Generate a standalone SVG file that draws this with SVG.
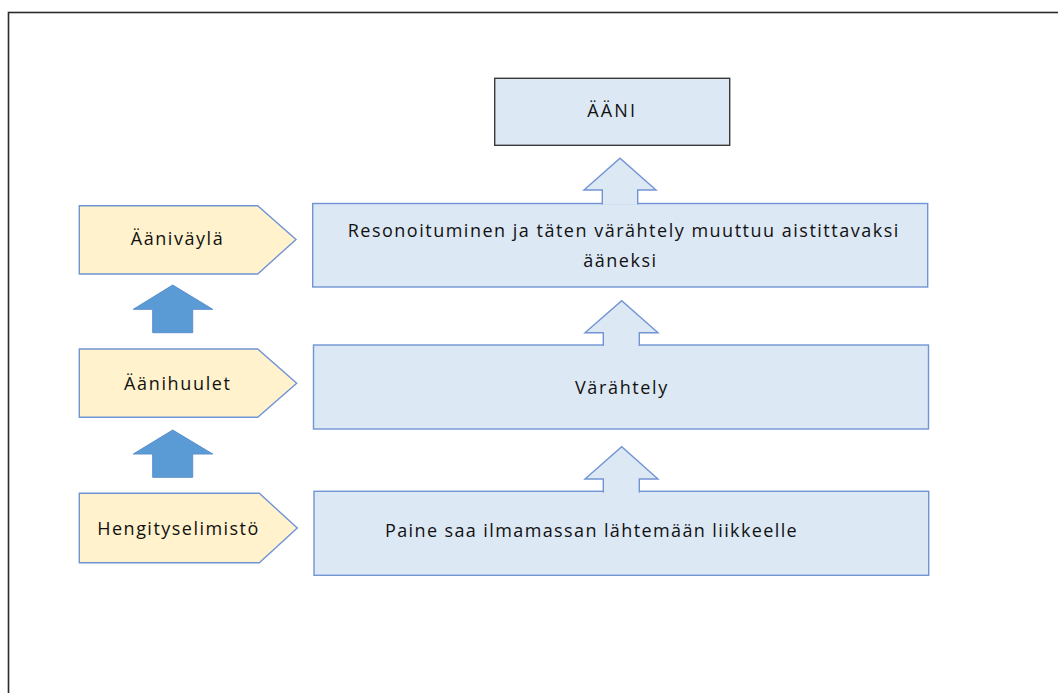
<svg xmlns="http://www.w3.org/2000/svg" width="1058" height="693" viewBox="0 0 1058 693">
<style>
.bg{fill:#ffffff}
.frame{fill:none;stroke:#2b2b2b;stroke-width:1.6}
.box{fill:#dde8f5;stroke:#7194d4;stroke-width:1.4}
.top{fill:#dde8f5;stroke:#3a3a3a;stroke-width:1.4}
.tag{fill:#fff2cc;stroke:#7194d4;stroke-width:1.4}
.harrow{fill:#dde8f5;stroke:#7194d4;stroke-width:1.4;stroke-linejoin:miter}
.sarrow{fill:#5b9bd5;stroke:#5a8fcc;stroke-width:1}
text{font-family:"Open Sans","Noto Sans","Liberation Sans",sans-serif;font-size:18px;fill:#111111}
</style>
<rect class="bg" x="0" y="0" width="1058" height="693"/>
<rect class="frame" x="8.5" y="12.5" width="1100" height="720"/>

<g id="node-aani">
<rect class="top" x="494.7" y="78.3" width="235" height="67"/>
<text x="587.3" y="117" textLength="47.7" lengthAdjust="spacing">ÄÄNI</text>
</g>

<g id="node-resonoituminen">
<rect class="box" x="312.7" y="203.5" width="615" height="83.5"/>
<text x="347.7" y="237" textLength="550.6" lengthAdjust="spacing">Resonoituminen ja täten värähtely muuttuu aistittavaksi</text>
<text x="583.3" y="266.5" textLength="72.7" lengthAdjust="spacing">ääneksi</text>
</g>

<g id="node-varahtely">
<rect class="box" x="313.5" y="345" width="615" height="84"/>
<text x="575" y="394" textLength="92.3" lengthAdjust="spacing">Värähtely</text>
</g>

<g id="node-paine">
<rect class="box" x="314" y="491.3" width="614.7" height="84"/>
<text x="385" y="537" textLength="411.7" lengthAdjust="spacing">Paine saa ilmamassan lähtemään liikkeelle</text>
</g>

<g id="node-aanivayla">
<polygon class="tag" points="79.3,205.7 257.7,205.7 296,239.5 257.7,274 79.3,274"/>
<text x="130.7" y="245" textLength="92" lengthAdjust="spacing">Ääniväylä</text>
</g>

<g id="node-aanihuulet">
<polygon class="tag" points="79.3,349 257.7,349 296.7,383.2 257.7,417.3 79.3,417.3"/>
<text x="124" y="390" textLength="106" lengthAdjust="spacing">Äänihuulet</text>
</g>

<g id="node-hengityselimisto">
<polygon class="tag" points="79.3,493.3 259.3,493.3 297.3,528 259.3,562.7 79.3,562.7"/>
<text x="97.3" y="535" textLength="161" lengthAdjust="spacing">Hengityselimistö</text>
</g>

<g id="connectors">
<path class="harrow" d="M602.3,204.6 V190 H584 L620,158.3 L656,190 H637.7 V204.6"/>
<path class="harrow" d="M603.3,346.1 V332.7 H585 L621.7,300.7 L658,332.7 H639.3 V346.1"/>
<path class="harrow" d="M603.3,492.4 V479 H585 L621.7,446.7 L658,479 H639.3 V492.4"/>
<polygon class="sarrow" points="152.7,332.7 152.7,309.3 133.3,309.3 172.7,285 212.7,309.3 192.7,309.3 192.7,332.7"/>
<polygon class="sarrow" points="152.7,477.3 152.7,454 133.3,454 172.7,430 212.7,454 192.7,454 192.7,477.3"/>
</g>
</svg>
